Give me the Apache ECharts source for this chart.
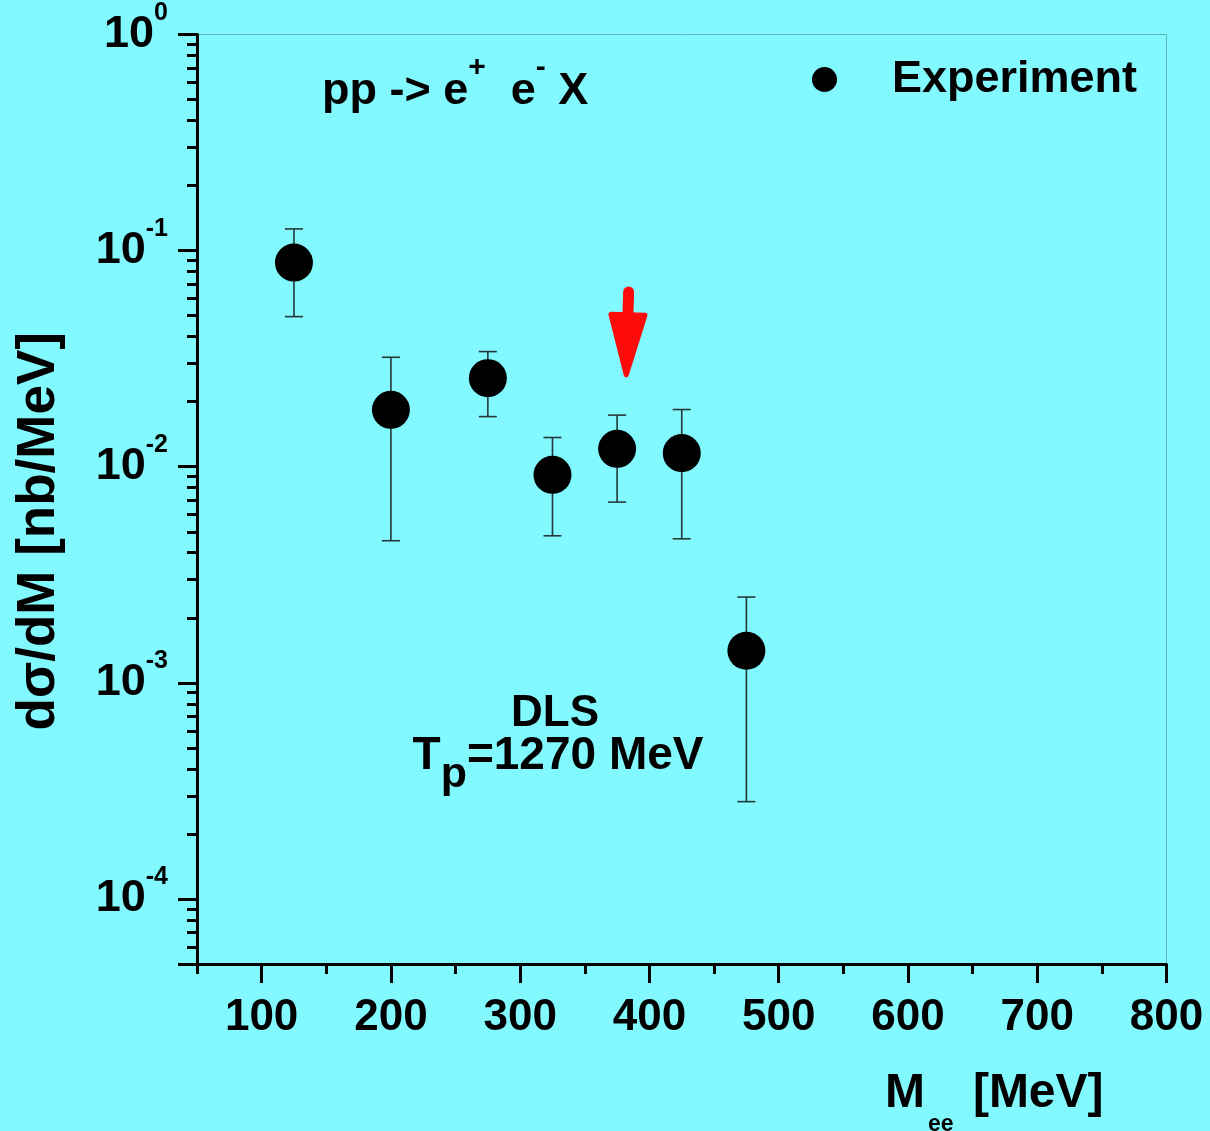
<!DOCTYPE html>
<html>
<head>
<meta charset="utf-8">
<script src="https://cdn.jsdelivr.net/npm/echarts@6/dist/echarts.min.js"></script>
<style>
  html, body { margin: 0; padding: 0; background: #82F9FE; }
  #chart { width: 1210px; height: 1131px; }
</style>
</head>
<body>
<div id="chart"></div>
<script>
// DLS dielectron data, pp at Tp = 1270 MeV
const massValues   = [125, 200, 275, 325, 375, 425, 475];          // M_ee [MeV]
const crossSection = [0.0880, 0.01833, 0.0257, 0.00917, 0.0121, 0.01156, 0.001408]; // dσ/dM [nb/MeV]
const errorUpper   = [0.126, 0.0321, 0.0341, 0.01365, 0.01733, 0.01839, 0.002494];
const errorLower   = [0.0495, 0.004545, 0.01706, 0.00479, 0.00686, 0.00464, 0.000282];

// Arrow marking the region of interest: tail and tip in data units
const arrowTail = [384, 0.0679];
const arrowTip  = [382, 0.0258];

// Axis ticks
const xMajorTicks = [100, 200, 300, 400, 500, 600, 700, 800];
const xMinorTicks = [50, 150, 250, 350, 450, 550, 650, 750];
const yLabelTicks = [1e-4, 1e-3, 1e-2, 1e-1, 1];
const yMajorTicks = [5e-5, 1e-4, 1e-3, 1e-2, 1e-1, 1];
const yMinorTicks = [6e-5, 7e-5, 8e-5, 9e-5];
[-4, -3, -2, -1].forEach(function (e) {
  for (let k = 2; k <= 9; k++) yMinorTicks.push(k * Math.pow(10, e));
});

const FONT = '"Liberation Sans", Arial, sans-serif';
const INK = '#000';

const chart = echarts.init(document.getElementById('chart'), null, { renderer: 'canvas' });

function expLabel(v) {
  const e = Math.round(Math.log10(v));
  return '{b|10}{s|' + e + '}';
}

const option = {
  backgroundColor: '#82F9FE',
  animation: false,
  grid: {
    left: 197, right: 43.5, top: 34.5, bottom: 167,
    show: true, borderColor: '#62b4bc', borderWidth: 1, backgroundColor: 'transparent'
  },
  legend: {
    data: [{ name: 'Experiment', icon: 'circle' }],
    left: 807, top: 52,
    itemWidth: 25, itemHeight: 25,
    textStyle: { fontFamily: FONT, fontWeight: 'bold', fontSize: 45, color: INK, padding: [0, 0, 0, 50] },
    selectedMode: false
  },
  xAxis: [{
    type: 'value', min: 50, max: 800,
    axisLine: { show: true, onZero: false, lineStyle: { color: INK, width: 3 } },
    axisTick: { show: true, inside: false, length: 19, customValues: xMajorTicks, lineStyle: { color: INK, width: 3 } },
    axisLabel: { customValues: xMajorTicks, margin: 32, fontFamily: FONT, fontWeight: 'bold', fontSize: 44, color: INK },
    splitLine: { show: false }
  }, {
    type: 'value', min: 50, max: 800, position: 'bottom',
    axisLine: { show: false },
    axisTick: { show: true, inside: false, length: 10, customValues: xMinorTicks, lineStyle: { color: INK, width: 3 } },
    axisLabel: { show: false },
    splitLine: { show: false }
  }],
  yAxis: [{
    type: 'log', logBase: 10, min: 5e-5, max: 1,
    axisLine: { show: true, onZero: false, lineStyle: { color: INK, width: 3 } },
    axisTick: { show: true, inside: false, length: 19, customValues: yMajorTicks, lineStyle: { color: INK, width: 3 } },
    axisLabel: {
      customValues: yLabelTicks, margin: 29, formatter: expLabel,
      rich: {
        b: { fontFamily: FONT, fontWeight: 'bold', fontSize: 45, lineHeight: 68, color: INK },
        s: { fontFamily: FONT, fontWeight: 'bold', fontSize: 25, lineHeight: 25, verticalAlign: 'top', color: INK }
      }
    },
    splitLine: { show: false },
    name: 'dσ/dM [nb/MeV]',
    nameLocation: 'middle', nameRotate: 90, nameGap: 131,
    nameTextStyle: { fontFamily: FONT, fontWeight: 'bold', fontSize: 53, color: INK, padding: [0, 64, 0, 0] }
  }, {
    type: 'log', logBase: 10, min: 5e-5, max: 1, position: 'left',
    axisLine: { show: false },
    axisTick: { show: true, inside: false, length: 10, customValues: yMinorTicks, lineStyle: { color: INK, width: 3 } },
    axisLabel: { show: false },
    splitLine: { show: false }
  }],
  graphic: [
    {
      type: 'text', left: 322, top: 51,
      style: {
        text: '{b|pp -> e}{s|+}{b|  e}{s|-}{b| X}',
        rich: {
          b: { fontFamily: FONT, fontWeight: 'bold', fontSize: 45, lineHeight: 82, fill: INK },
          s: { fontFamily: FONT, fontWeight: 'bold', fontSize: 30, lineHeight: 30, verticalAlign: 'top', padding: [2, 0, 0, 0], fill: INK }
        }
      }
    },
    {
      type: 'text', x: 555, y: 714,
      style: { text: 'DLS', font: 'bold 44px ' + FONT, fill: INK, align: 'center', verticalAlign: 'middle' }
    },
    {
      type: 'text', x: 558, y: 765,
      style: {
        text: '{b|T}{p|p}{b|=1270 MeV}', align: 'center', verticalAlign: 'middle',
        rich: {
          b: { fontFamily: FONT, fontWeight: 'bold', fontSize: 46, lineHeight: 63, verticalAlign: 'top', fill: INK },
          p: { fontFamily: FONT, fontWeight: 'bold', fontSize: 43, lineHeight: 43, verticalAlign: 'bottom', fill: INK }
        }
      }
    },
    {
      type: 'text', left: 885, top: 1070,
      style: {
        text: '{b|M}{s|ee}{b| [MeV]}',
        rich: {
          b: { fontFamily: FONT, fontWeight: 'bold', fontSize: 48, lineHeight: 66, verticalAlign: 'top', fill: INK },
          s: { fontFamily: FONT, fontWeight: 'bold', fontSize: 23, lineHeight: 23, verticalAlign: 'bottom', padding: [0, 6, 0, 3], fill: INK }
        }
      }
    }
  ],
  series: [
    {
      name: 'error',
      type: 'custom',
      xAxisIndex: 0, yAxisIndex: 0,
      clip: false, z: 2,
      data: massValues.map(function (m, i) { return [m, errorLower[i], errorUpper[i]]; }),
      encode: { x: 0, y: [1, 2] },
      renderItem: function (params, api) {
        const x = api.value(0);
        const lo = api.coord([x, api.value(1)]);
        const hi = api.coord([x, api.value(2)]);
        const cap = 9;
        const st = { stroke: '#26373a', lineWidth: 1.6 };
        return {
          type: 'group',
          children: [
            { type: 'line', shape: { x1: hi[0], y1: hi[1], x2: lo[0], y2: lo[1] }, style: st },
            { type: 'line', shape: { x1: hi[0] - cap, y1: hi[1], x2: hi[0] + cap, y2: hi[1] }, style: st },
            { type: 'line', shape: { x1: lo[0] - cap, y1: lo[1], x2: lo[0] + cap, y2: lo[1] }, style: st }
          ]
        };
      }
    },
    {
      name: 'Experiment',
      type: 'scatter',
      xAxisIndex: 0, yAxisIndex: 0,
      symbol: 'circle', symbolSize: 38, z: 3,
      itemStyle: { color: INK, opacity: 1 },
      data: massValues.map(function (m, i) { return [m, crossSection[i]]; })
    },
    {
      name: 'arrow',
      type: 'custom',
      xAxisIndex: 0, yAxisIndex: 0,
      clip: false, z: 4,
      data: [[arrowTail[0], arrowTail[1], arrowTip[0], arrowTip[1]]],
      encode: { x: [0, 2], y: [1, 3] },
      renderItem: function (params, api) {
        const a = api.coord([api.value(0), api.value(1)]);
        const b = api.coord([api.value(2), api.value(3)]);
        const dx = b[0] - a[0], dy = b[1] - a[1];
        const len = Math.sqrt(dx * dx + dy * dy);
        const ux = dx / len, uy = dy / len;      // along the arrow
        const nx = -uy, ny = ux;                  // normal
        const headLen = 63, headHalf = 17;
        const base = [b[0] - ux * headLen, b[1] - uy * headLen];
        const shaftEnd = [base[0] + ux * 6, base[1] + uy * 6];
        const red = '#ff0a0a';
        return {
          type: 'group',
          children: [
            {
              type: 'line',
              shape: { x1: a[0] + ux * 5, y1: a[1] + uy * 5, x2: shaftEnd[0], y2: shaftEnd[1] },
              style: { stroke: red, lineWidth: 11, lineCap: 'round' }
            },
            {
              type: 'polygon',
              shape: {
                points: [
                  [base[0] + nx * headHalf, base[1] + ny * headHalf],
                  [base[0] - nx * headHalf, base[1] - ny * headHalf],
                  [b[0] - ux * 3, b[1] - uy * 3]
                ]
              },
              style: { fill: red, stroke: red, lineWidth: 5, lineJoin: 'round' }
            }
          ]
        };
      }
    }
  ]
};

chart.setOption(option);
</script>
</body>
</html>
